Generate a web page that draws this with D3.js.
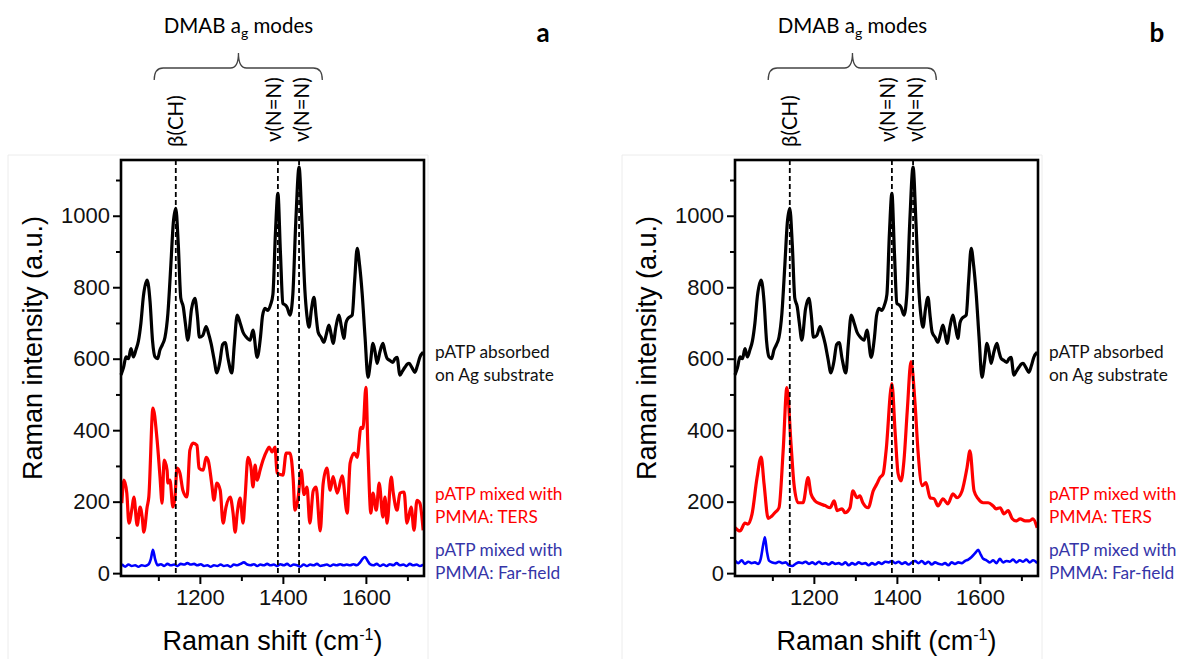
<!DOCTYPE html>
<meta charset="utf-8">
<style>
body { margin: 0; background: #fff; }
svg { display: block; font-family: 'Liberation Sans', Arial, sans-serif; }
.axis .domain { display: none; }
.axis line { stroke: #000; stroke-width: 2px; }
.axis text { font-size: 22px; fill: #111; }
.note { font-family: Lato, 'Open Sans', sans-serif; }
</style>
<body>
<script src="https://cdn.jsdelivr.net/npm/d3@7/dist/d3.min.js"></script>
<script>
// spectra: [Raman shift (cm-1), intensity (a.u.)]
var agSubstrate = [[1010, 555], [1016, 575], [1022, 605], [1028, 600], [1034, 628], [1040, 605], [1046, 625],
    [1052, 650], [1058, 700], [1064, 775], [1073, 820], [1080, 760], [1086, 650], [1092, 605], [1098, 600],
    [1104, 625], [1110, 640], [1116, 660], [1123, 727], [1130, 860], [1136, 980], [1142, 1021], [1148, 920],
    [1154, 770], [1160, 745], [1165, 700], [1171, 652], [1180, 740], [1188, 769], [1194, 720], [1199, 660],
    [1207, 665], [1215, 690], [1221, 670], [1227, 643], [1234, 600], [1241, 560], [1248, 590], [1255, 640],
    [1261, 645], [1268, 600], [1277, 560], [1283, 640], [1290, 722], [1297, 700], [1304, 674], [1312, 660],
    [1321, 652], [1328, 680], [1338, 604], [1346, 660], [1351, 720], [1357, 741], [1364, 735], [1370, 750],
    [1376, 780], [1382, 950], [1388, 1063], [1394, 900], [1400, 755], [1406, 750], [1410, 744], [1417, 722],
    [1424, 780], [1431, 980], [1439, 1136], [1446, 980], [1453, 792], [1458, 720], [1463, 688], [1469, 740],
    [1475, 772], [1480, 720], [1485, 674], [1492, 660], [1499, 646], [1505, 670], [1511, 694], [1516, 670],
    [1521, 643], [1528, 690], [1535, 722], [1541, 690], [1547, 657], [1552, 700], [1557, 713], [1567, 722],
    [1573, 820], [1579, 909], [1585, 860], [1591, 783], [1598, 660], [1605, 548], [1611, 590], [1617, 643],
    [1622, 620], [1627, 587], [1634, 620], [1641, 643], [1646, 620], [1651, 601], [1658, 595], [1665, 590],
    [1670, 600], [1675, 604], [1682, 554], [1688, 565], [1694, 576], [1700, 585], [1704, 587], [1711, 575],
    [1718, 562], [1724, 580], [1730, 604], [1738, 618]]

var tersA = [[1012, 196], [1017, 260], [1024, 224], [1029, 140], [1037, 185], [1041, 213], [1049, 134],
    [1056, 185], [1061, 157], [1065, 115], [1073, 185], [1077, 213], [1087, 462], [1097, 372], [1104, 269],
    [1109, 196], [1114, 316], [1121, 288], [1123, 252], [1128, 260], [1135, 185], [1140, 213], [1145, 294],
    [1152, 280], [1159, 232], [1169, 213], [1176, 344], [1184, 364], [1193, 358], [1198, 294], [1208, 288],
    [1215, 324], [1220, 316], [1229, 246], [1234, 204], [1241, 252], [1249, 232], [1256, 140], [1263, 185],
    [1273, 213], [1280, 168], [1285, 115], [1290, 168], [1297, 210], [1304, 140], [1309, 213], [1316, 324],
    [1323, 297], [1328, 241], [1333, 302], [1338, 260], [1345, 288], [1352, 316], [1362, 344], [1367, 353],
    [1374, 339], [1381, 353], [1386, 280], [1400, 274], [1408, 336], [1417, 336], [1425, 260], [1429, 176],
    [1437, 213], [1444, 288], [1451, 220], [1458, 241], [1465, 140], [1473, 230], [1480, 241], [1490, 118],
    [1497, 250], [1506, 294], [1514, 232], [1521, 270], [1531, 224], [1543, 272], [1555, 168], [1562, 308],
    [1572, 336], [1579, 324], [1588, 408], [1593, 405], [1600, 520], [1605, 344], [1612, 168], [1617, 224],
    [1625, 176], [1632, 252], [1641, 157], [1646, 213], [1651, 140], [1661, 269], [1666, 224], [1675, 176],
    [1682, 224], [1692, 227], [1699, 140], [1709, 185], [1716, 120], [1723, 204], [1730, 196], [1738, 120]]

var farFieldA = [[1012, 25], [1020, 18], [1028, 24], [1036, 20], [1044, 22], [1052, 18], [1060, 22], [1068, 20],
    [1076, 24], [1082, 40], [1087, 65], [1092, 40], [1098, 22], [1106, 25], [1114, 20], [1122, 26], [1130, 22],
    [1138, 24], [1146, 20], [1154, 26], [1162, 24], [1170, 28], [1178, 24], [1186, 26], [1194, 22], [1202, 25],
    [1210, 20], [1218, 22], [1226, 18], [1234, 22], [1242, 20], [1250, 24], [1258, 20], [1266, 22], [1274, 18],
    [1282, 24], [1290, 22], [1298, 26], [1306, 30], [1314, 24], [1322, 22], [1330, 25], [1338, 20], [1346, 24],
    [1354, 22], [1362, 26], [1370, 22], [1378, 24], [1386, 20], [1394, 25], [1402, 22], [1410, 26], [1418, 20],
    [1426, 24], [1434, 22], [1442, 18], [1450, 24], [1458, 20], [1466, 24], [1474, 22], [1482, 26], [1490, 20],
    [1498, 22], [1506, 24], [1514, 20], [1522, 24], [1530, 22], [1538, 25], [1546, 22], [1554, 24], [1562, 22],
    [1570, 25], [1578, 22], [1586, 30], [1592, 40], [1598, 45], [1604, 35], [1610, 25], [1618, 22], [1626, 26],
    [1634, 20], [1642, 24], [1650, 20], [1658, 25], [1666, 22], [1674, 28], [1682, 22], [1690, 24], [1698, 20],
    [1706, 26], [1714, 22], [1722, 24], [1730, 20], [1738, 24]]

var tersB = [[1010, 127], [1022, 118], [1034, 140], [1041, 137], [1051, 165], [1063, 266], [1073, 325],
    [1080, 250], [1090, 153], [1099, 160], [1106, 169], [1116, 183], [1126, 342], [1135, 519], [1145, 361],
    [1152, 250], [1162, 197], [1174, 197], [1186, 267], [1193, 222], [1203, 202], [1215, 194], [1227, 189],
    [1239, 183], [1249, 202], [1256, 175], [1268, 180], [1275, 169], [1287, 183], [1294, 230], [1304, 211],
    [1311, 216], [1318, 197], [1331, 183], [1343, 230], [1352, 250], [1359, 267], [1367, 278], [1374, 342],
    [1388, 530], [1396, 390], [1403, 278], [1410, 258], [1417, 314], [1425, 454], [1434, 592], [1444, 470],
    [1451, 340], [1461, 245], [1470, 253], [1480, 211], [1490, 208], [1499, 188], [1511, 208], [1523, 194],
    [1535, 222], [1545, 211], [1557, 230], [1569, 295], [1576, 342], [1586, 230], [1596, 208], [1608, 197],
    [1620, 197], [1632, 188], [1639, 180], [1649, 183], [1658, 166], [1668, 175], [1678, 152], [1687, 146],
    [1697, 152], [1709, 146], [1719, 146], [1728, 152], [1738, 127]]

var farFieldB = [[1010, 35], [1018, 28], [1026, 36], [1034, 26], [1042, 32], [1050, 28], [1058, 30], [1066, 26],
    [1072, 40], [1078, 80], [1082, 100], [1087, 60], [1092, 35], [1100, 30], [1108, 28], [1116, 32], [1124, 28],
    [1132, 30], [1140, 22], [1148, 20], [1156, 26], [1164, 30], [1172, 28], [1180, 32], [1188, 26], [1196, 30],
    [1204, 25], [1212, 32], [1220, 26], [1228, 28], [1236, 24], [1244, 30], [1252, 26], [1260, 28], [1268, 24],
    [1276, 30], [1284, 22], [1292, 28], [1300, 24], [1308, 30], [1316, 26], [1324, 28], [1332, 22], [1340, 28],
    [1348, 24], [1356, 30], [1364, 26], [1372, 32], [1380, 30], [1388, 34], [1396, 28], [1404, 32], [1412, 26],
    [1420, 30], [1428, 24], [1436, 30], [1444, 34], [1452, 28], [1460, 34], [1468, 26], [1476, 32], [1484, 24],
    [1492, 30], [1500, 26], [1508, 24], [1516, 28], [1524, 22], [1532, 30], [1540, 26], [1548, 30], [1556, 28],
    [1564, 34], [1572, 38], [1580, 45], [1588, 55], [1596, 65], [1602, 52], [1608, 40], [1616, 36], [1624, 30],
    [1632, 36], [1640, 28], [1648, 40], [1656, 30], [1664, 34], [1672, 32], [1680, 38], [1688, 30], [1696, 36],
    [1704, 32], [1712, 38], [1720, 30], [1728, 36], [1738, 28]]

var modeShifts = [1142, 1388, 1439]
var modeLabels = ['β(CH)', 'ν(N=N)', 'ν(N=N)']
var yMajor = [0, 200, 400, 600, 800, 1000]
var yMinor = [100, 300, 500, 700, 900, 1100]
var xMajor = [1200, 1400, 1600]
var xMinor = [1100, 1300, 1500, 1700]
var seriesNames = [['pATP absorbed', 'on Ag substrate'], ['pATP mixed with', 'PMMA: TERS'], ['pATP mixed with', 'PMMA: Far-field']]
var seriesColors = ['#000', '#ff0000', '#0000ff']
var nameColors = ['#111', '#ff0000', '#3535a8']

var width = 1182, height = 659
var plotW = 303, plotTop = 160, plotBottom = 576

var svg = d3.select('body').append('svg')
    .attr('width', width)
    .attr('height', height)

var panels = [
    { letter: 'a', left: 121, series: [agSubstrate, tersA, farFieldA] },
    { letter: 'b', left: 735, series: [agSubstrate, tersB, farFieldB] }
]

var y = d3.scaleLinear().domain([-8, 1156]).range([plotBottom, plotTop])

panels.forEach(function (p) {
    var x = d3.scaleLinear().domain([1010, 1740]).range([p.left, p.left + plotW])
    var g = svg.append('g')

    // faint border of the pasted figure
    g.append('path')
        .attr('d', 'M' + (p.left - 113) + ',' + height + 'V155H' + (p.left + plotW + 4) + 'V' + height)
        .attr('fill', 'none')
        .attr('stroke', '#ececec')
        .attr('stroke-width', 1)

    g.append('g').attr('class', 'axis')
        .attr('transform', 'translate(' + p.left + ',0)')
        .call(d3.axisLeft(y).tickValues(yMajor).tickSize(8).tickPadding(3).tickFormat(d3.format('d')))
    g.append('g').attr('class', 'axis')
        .attr('transform', 'translate(' + p.left + ',0)')
        .call(d3.axisLeft(y).tickValues(yMinor).tickSize(5).tickFormat(''))
    g.append('g').attr('class', 'axis')
        .attr('transform', 'translate(0,' + plotBottom + ')')
        .call(d3.axisBottom(x).tickValues(xMajor).tickSize(8).tickPadding(5).tickFormat(d3.format('d')))
    g.append('g').attr('class', 'axis')
        .attr('transform', 'translate(0,' + plotBottom + ')')
        .call(d3.axisBottom(x).tickValues(xMinor).tickSize(5).tickFormat(''))

    var line = d3.line()
        .x(function (d) { return x(d[0]) })
        .y(function (d) { return y(d[1]) })
        .curve(d3.curveMonotoneX)

    p.series.forEach(function (s, i) {
        g.append('path')
            .datum(s)
            .attr('d', line)
            .attr('fill', 'none')
            .attr('stroke', seriesColors[i])
            .attr('stroke-width', i === 2 ? 2.6 : 3.2)
            .attr('stroke-linejoin', 'round')
    })

    g.selectAll('.mode')
        .data(modeShifts)
        .enter().append('line')
        .attr('x1', function (d) { return x(d) })
        .attr('x2', function (d) { return x(d) })
        .attr('y1', plotTop)
        .attr('y2', plotBottom)
        .attr('stroke', '#000')
        .attr('stroke-width', 1.8)
        .attr('stroke-dasharray', '5,3')

    g.append('rect')
        .attr('x', p.left)
        .attr('y', plotTop)
        .attr('width', plotW)
        .attr('height', plotBottom - plotTop)
        .attr('fill', 'none')
        .attr('stroke', '#000')
        .attr('stroke-width', 2.6)

    // mode labels, nudged apart where two lines sit close together
    var lx = modeShifts.map(function (d) { return x(d) })
    for (var i = 1; i < lx.length; i++) {
        if (lx[i] - lx[i - 1] < 28) {
            var mid = (lx[i] + lx[i - 1]) / 2
            lx[i - 1] = mid - 14
            lx[i] = mid + 14
        }
    }
    g.selectAll('.mode-label')
        .data(modeLabels)
        .enter().append('text')
        .attr('class', 'note')
        .attr('transform', function (d, i) {
            return 'translate(' + (lx[i] + 7) + ',' + (i === 0 ? 147 : 142) + ') rotate(-90)'
        })
        .style('font-size', '20.5px')
        .text(function (d) { return d })

    // brace over the DMAB modes
    var b0 = x(1090), b1 = x(1495), bm = x(1293), by = 68
    g.append('path')
        .attr('d', 'M' + b0 + ',80Q' + b0 + ',' + by + ' ' + (b0 + 9) + ',' + by +
            'L' + (bm - 8) + ',' + by + 'Q' + bm + ',' + by + ' ' + bm + ',53' +
            'Q' + bm + ',' + by + ' ' + (bm + 8) + ',' + by +
            'L' + (b1 - 9) + ',' + by + 'Q' + b1 + ',' + by + ' ' + b1 + ',80')
        .attr('fill', 'none')
        .attr('stroke', '#444')
        .attr('stroke-width', 1.3)

    var title = g.append('text')
        .attr('class', 'note')
        .attr('x', bm)
        .attr('y', 33)
        .attr('text-anchor', 'middle')
        .style('font-size', '20.5px')
    title.append('tspan').text('DMAB a')
    title.append('tspan').attr('dy', 5).style('font-size', '14px').text('g')
    title.append('tspan').attr('dy', -5).text(' modes')

    g.append('text')
        .attr('class', 'note')
        .attr('x', p.left + plotW + 119)
        .attr('y', 42)
        .attr('text-anchor', 'middle')
        .style('font-size', '26px')
        .style('font-weight', 700)
        .text(p.letter)

    var nameY = [352, 494, 550]
    seriesNames.forEach(function (lines, i) {
        var t = g.append('text')
            .attr('class', 'note')
            .attr('x', p.left + plotW + 11)
            .attr('y', nameY[i])
            .attr('fill', nameColors[i])
            .style('font-size', '17.3px')
        lines.forEach(function (l, j) {
            t.append('tspan')
                .attr('x', p.left + plotW + 11)
                .attr('y', nameY[i] + j * 23)
                .attr('dy', '0.35em')
                .text(l)
        })
    })

    g.append('text')
        .attr('transform', 'translate(' + (p.left - 88) + ',' + ((plotTop + plotBottom) / 2 - 20) + ') rotate(-90)')
        .attr('text-anchor', 'middle')
        .attr('dy', '0.35em')
        .style('font-size', '27px')
        .text('Raman intensity (a.u.)')

    var xt = g.append('text')
        .attr('x', p.left + plotW / 2)
        .attr('y', 650)
        .attr('text-anchor', 'middle')
        .style('font-size', '27px')
    xt.append('tspan').text('Raman shift (cm')
    xt.append('tspan').attr('dy', -10).style('font-size', '16px').text('-1')
    xt.append('tspan').attr('dy', 10).text(')')
})
</script>
</body>
